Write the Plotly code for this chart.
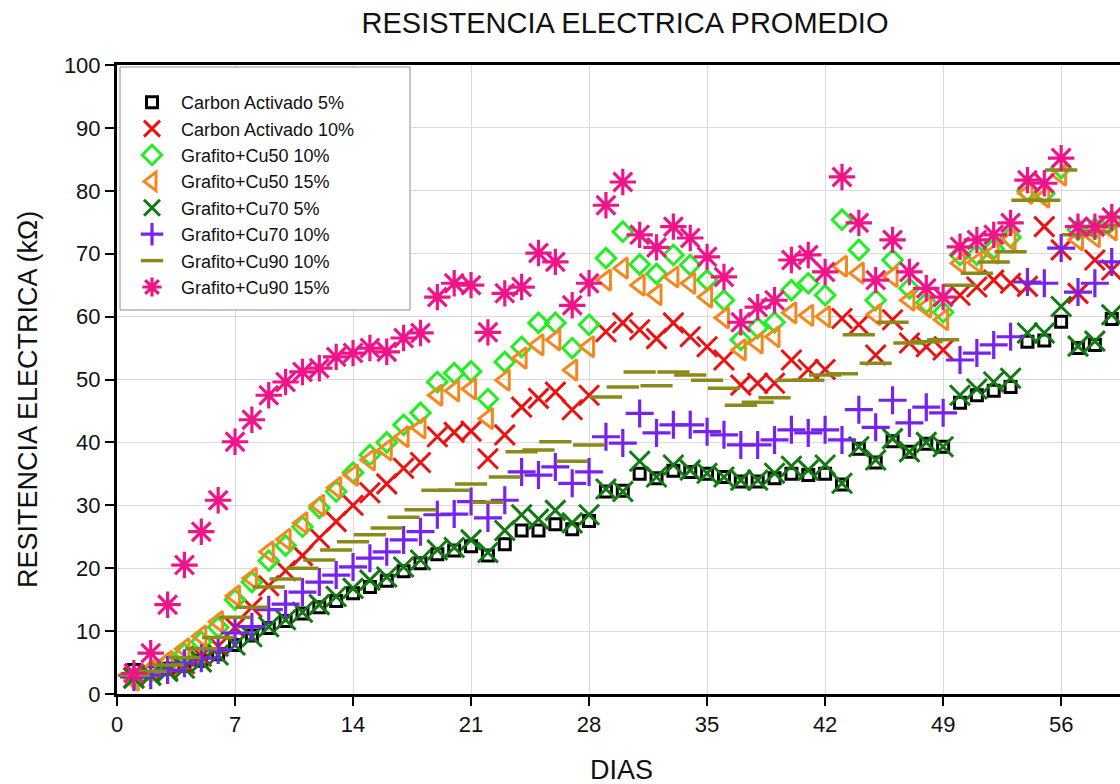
import plotly.graph_objects as go

# Days of measurement
dias = list(range(1, 60))

# Average electrical resistance (kΩ) per mixture
carbon_activado_5 = [3.8, 3.5, 4.0, 4.5, 5.3, 6.3, 7.8, 9.3, 10.5, 11.6, 12.8, 13.8, 14.8, 16.0, 17.0,
                     18.0, 19.5, 20.8, 22.2, 22.8, 23.5, 22.0, 23.8, 26.0, 26.0, 27.0, 26.2, 27.5, 32.2, 32.3,
                     35.0, 34.3, 35.5, 35.3, 35.0, 34.5, 33.8, 33.8, 34.3, 35.0, 34.8, 35.0, 33.3, 39.0, 36.8,
                     40.2, 38.5, 39.8, 39.3, 46.3, 47.5, 48.2, 48.8, 56.0, 56.2, 59.2, 55.0, 55.5, 59.6]
carbon_activado_10 = [2.6, 3.0, 3.8, 4.8, 6.0, 7.6, 10.6, 13.8, 17.2, 19.6, 22.0, 24.8, 27.4, 30.0, 32.0,
                      33.4, 35.9, 36.8, 40.9, 41.6, 41.8, 37.4, 41.2, 45.6, 47.0, 48.0, 45.2, 47.5, 57.6, 59.0,
                      57.9, 56.5, 59.0, 56.8, 55.2, 53.1, 49.1, 49.4, 49.4, 53.1, 51.6, 51.6, 59.7, 58.7, 53.9,
                      59.5, 55.8, 55.2, 54.7, 63.4, 64.7, 65.8, 65.3, 64.8, 74.3, 70.6, 63.7, 69.0, 67.4]
grafito_cu50_10 = [2.6, 3.6, 4.8, 6.4, 8.3, 10.6, 15.0, 17.8, 21.2, 23.6, 26.6, 29.6, 32.2, 35.2, 38.0,
                   40.0, 42.8, 44.7, 49.6, 51.0, 51.3, 46.9, 52.8, 55.2, 59.0, 59.0, 55.0, 58.7, 69.3, 73.5,
                   68.3, 66.8, 69.8, 68.2, 65.8, 62.6, 56.3, 58.2, 59.1, 64.2, 65.3, 63.4, 75.4, 70.6, 62.6,
                   69.0, 64.5, 62.2, 60.7, 69.8, 69.8, 70.8, 72.6, 80.0, 79.6, 83.6, 73.8, 74.0, 75.2]
grafito_cu50_15 = [2.2, 3.8, 5.2, 7.2, 9.2, 11.5, 15.6, 18.4, 22.6, 24.6, 27.2, 30.0, 32.8, 34.8, 37.2,
                   38.8, 40.9, 42.3, 47.5, 48.2, 48.5, 43.8, 49.9, 53.4, 55.5, 56.3, 51.5, 55.2, 65.8, 67.7,
                   65.0, 63.5, 66.3, 65.3, 63.1, 59.8, 54.7, 55.8, 56.8, 60.6, 60.2, 60.0, 68.0, 66.9, 60.3,
                   66.4, 62.6, 61.5, 59.5, 68.5, 68.6, 70.1, 72.2, 79.6, 79.0, 82.5, 72.2, 72.7, 73.8]
grafito_cu70_5 = [2.5, 3.0, 3.6, 4.1, 5.1, 6.2, 7.8, 9.1, 10.7, 11.8, 13.0, 14.2, 15.5, 16.8, 18.1,
                  18.6, 20.2, 21.3, 22.9, 23.3, 24.5, 22.5, 26.0, 28.5, 27.8, 29.2, 27.2, 28.5, 32.6, 32.2,
                  37.0, 34.5, 36.4, 35.6, 35.1, 34.5, 34.0, 34.0, 35.1, 36.2, 35.6, 36.4, 33.5, 39.3, 37.2,
                  40.6, 38.5, 40.0, 39.3, 47.5, 48.5, 49.6, 50.2, 57.4, 57.4, 61.6, 55.3, 56.1, 60.3]
grafito_cu70_10 = [2.7, 3.0, 3.8, 4.9, 5.7, 7.0, 9.7, 10.7, 13.4, 14.3, 16.2, 17.8, 18.9, 20.2, 21.6,
                   22.6, 24.5, 25.8, 28.5, 28.6, 30.6, 28.0, 30.8, 35.3, 34.8, 36.1, 33.5, 35.3, 40.9, 39.9,
                   44.6, 41.5, 42.8, 42.8, 41.7, 41.2, 39.6, 39.6, 40.4, 42.0, 41.5, 42.0, 40.4, 45.2, 42.4,
                   46.7, 43.1, 45.6, 44.7, 53.1, 54.2, 55.5, 56.8, 65.5, 65.3, 70.9, 63.9, 65.3, 68.7]
grafito_cu90_10 = [3.0, 3.6, 4.6, 5.8, 7.2, 9.0, 12.2, 13.8, 17.0, 18.3, 20.0, 21.3, 22.9, 24.2, 25.3,
                   26.4, 28.1, 29.3, 32.4, 32.4, 33.4, 30.5, 34.5, 38.5, 38.8, 40.1, 37.0, 39.6, 47.2, 48.8,
                   51.2, 49.0, 51.2, 50.7, 49.9, 48.6, 45.9, 46.4, 47.1, 49.9, 49.9, 50.7, 50.9, 57.1, 52.6,
                   59.1, 55.8, 56.0, 56.3, 65.0, 66.9, 68.7, 70.3, 78.5, 78.5, 83.3, 73.0, 73.5, 74.5]
grafito_cu90_15 = [3.3, 6.5, 14.2, 20.5, 25.8, 30.8, 40.1, 43.6, 47.5, 49.6, 51.2, 51.8, 53.6, 54.2, 55.0,
                   54.4, 56.6, 57.4, 63.1, 65.3, 65.0, 57.5, 63.7, 64.7, 70.1, 68.7, 61.8, 65.3, 77.7, 81.4,
                   73.0, 71.0, 74.3, 72.5, 69.5, 66.3, 59.1, 61.5, 62.6, 69.0, 69.8, 67.1, 82.2, 74.9, 65.8,
                   72.2, 67.1, 64.5, 63.1, 71.1, 72.2, 73.0, 74.9, 81.7, 81.2, 85.2, 74.3, 74.3, 75.8]

x_ticks = [0, 7, 14, 21, 28, 35, 42, 49, 56, 63]
y_ticks = [0, 10, 20, 30, 40, 50, 60, 70, 80, 90, 100]

series = [
    ("Carbon Activado 5%", carbon_activado_5, "square-open", 11, "#000000", 3),
    ("Carbon Activado 10%", carbon_activado_10, "x-thin-open", 20, "#EE1111", 3),
    ("Grafito+Cu50 10%", grafito_cu50_10, "diamond-open", 15, "#22EE22", 3),
    ("Grafito+Cu50 15%", grafito_cu50_15, "triangle-left-open", 18, "#F5871F", 3),
    ("Grafito+Cu70 5%", grafito_cu70_5, "x-thin-open", 20, "#117A11", 3),
    ("Grafito+Cu70 10%", grafito_cu70_10, "cross-thin-open", 20, "#7722EE", 3.2),
    ("Grafito+Cu90 10%", grafito_cu90_10, "line-ew-open", 23, "#8A8A1A", 3.5),
    ("Grafito+Cu90 15%", grafito_cu90_15, "asterisk-open", 22, "#F01488", 3.2),
]

font_family = "Liberation Sans, Arial, sans-serif"
text_color = "#111111"

# Plot-area geometry in pixels (used to place the legend box and titles)
W, H = 1120, 784
L_M, T_M, B_M = 117, 65, 90
PW, PH = W - L_M, H - T_M - B_M


def px_x(p):
    return (p - L_M) / PW


def px_y(p):
    return 1 - (p - T_M) / PH


fig = go.Figure()
for name, vals, sym, size, color, lw in series:
    fig.add_trace(go.Scatter(
        x=dias, y=vals, mode="markers", name=name,
        marker=dict(symbol=sym, size=size, color=color,
                    line=dict(color=color, width=lw)),
    ))

fig.update_layout(
    width=W, height=H,
    margin=dict(l=L_M, r=0, t=T_M, b=B_M),
    paper_bgcolor="white", plot_bgcolor="white",
    font=dict(family=font_family, color=text_color),
    title=dict(text="RESISTENCIA ELECTRICA PROMEDIO", x=625 / W, xanchor="center",
               y=1 - 23 / H, yanchor="middle",
               font=dict(size=29, family=font_family, color=text_color)),
    showlegend=True,
    legend=dict(x=px_x(123), y=px_y(84), xanchor="left", yanchor="top",
                bgcolor="rgba(0,0,0,0)", borderwidth=0,
                font=dict(size=18, family=font_family, color=text_color),
                tracegroupgap=0, itemwidth=48),
    shapes=[dict(type="rect", xref="paper", yref="paper",
                 x0=px_x(120), x1=px_x(410), y0=px_y(310), y1=px_y(67),
                 fillcolor="white", line=dict(color="#8C8C8C", width=1), layer="above")],
    annotations=[
        dict(text="RESITENCIA ELECTRICA (kΩ)", xref="paper", yref="paper",
             x=px_x(28), y=px_y(400), textangle=-90, showarrow=False,
             xanchor="center", yanchor="middle",
             font=dict(size=27, family=font_family, color=text_color)),
        dict(text="DIAS", xref="paper", yref="paper",
             x=px_x(621), y=px_y(770), showarrow=False,
             xanchor="center", yanchor="middle",
             font=dict(size=27, family=font_family, color=text_color)),
    ],
)

fig.update_xaxes(
    range=[0, 59.49], tickmode="array", tickvals=x_ticks,
    showline=True, linecolor="black", linewidth=3, mirror=True,
    ticks="outside", ticklen=9, tickwidth=2, tickcolor="black",
    showgrid=True, gridcolor="#DADADA", gridwidth=1, zeroline=False,
    tickfont=dict(size=22, family=font_family, color=text_color),
)
fig.update_yaxes(
    range=[0, 100], tickmode="array", tickvals=y_ticks,
    showline=True, linecolor="black", linewidth=3,
    ticks="outside", ticklen=9, tickwidth=2, tickcolor="black",
    showgrid=True, gridcolor="#DADADA", gridwidth=1, zeroline=False,
    tickfont=dict(size=22, family=font_family, color=text_color),
)

fig.write_html("out.html")
